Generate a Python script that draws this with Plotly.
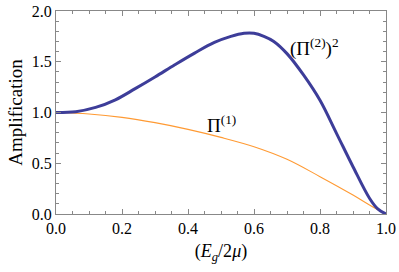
import plotly.graph_objects as go

x_pi2 = [0.0, 0.06, 0.12, 0.18, 0.24, 0.30, 0.36, 0.42, 0.48, 0.53, 0.57, 0.60, 0.63, 0.66, 0.70, 0.75, 0.80, 0.85, 0.90, 0.95, 0.975, 1.0]
y_pi2 = [1.0, 1.008, 1.05, 1.125, 1.235, 1.35, 1.47, 1.585, 1.69, 1.75, 1.78, 1.78, 1.75, 1.70, 1.58, 1.37, 1.12, 0.795, 0.466, 0.155, 0.05, 0.0]

x_pi1 = [0.0, 0.1, 0.2, 0.3, 0.4, 0.5, 0.6, 0.7, 0.8, 0.9, 0.95, 1.0]
y_pi1 = [1.0, 0.985, 0.952, 0.90, 0.834, 0.755, 0.663, 0.539, 0.368, 0.187, 0.089, 0.0]

x_ticks = [0.0, 0.2, 0.4, 0.6, 0.8, 1.0]
y_ticks = [0.0, 0.5, 1.0, 1.5, 2.0]

serif = "Liberation Serif"

fig = go.Figure()
fig.add_trace(go.Scatter(x=x_pi1, y=y_pi1, mode="lines", line=dict(color="#ff9a33", width=1.1, shape="spline"), showlegend=False, hoverinfo="skip"))
fig.add_trace(go.Scatter(x=x_pi2, y=y_pi2, mode="lines", line=dict(color="#3d3d99", width=3, shape="spline"), showlegend=False, hoverinfo="skip"))

fig.add_annotation(x=0.782, y=1.64, text="(Π<sup>(2)</sup>)<sup>2</sup>", showarrow=False,
                   font=dict(family=serif, size=19, color="black"))
fig.add_annotation(x=0.50, y=0.89, text="Π<sup>(1)</sup>", showarrow=False,
                   font=dict(family=serif, size=19, color="black"))

axis_common = dict(
    showgrid=False, zeroline=False, showline=True, linecolor="#888888", linewidth=1,
    mirror="ticks", ticks="inside", ticklen=5, tickcolor="#888888",
    tickfont=dict(family=serif, size=16, color="black"), automargin=False,
)

fig.update_xaxes(range=[0, 1], tickvals=x_ticks, ticktext=[f"{v:.1f}" for v in x_ticks],
                 minor=dict(dtick=0.05, tick0=0, ticks="inside", ticklen=3, tickcolor="#888888"),
                 title=dict(text="(<i>E</i><sub><i>g</i></sub>/2<i>μ</i>)", font=dict(family=serif, size=18, color="black"), standoff=8),
                 **axis_common)
fig.update_yaxes(range=[0, 2], tickvals=y_ticks, ticktext=[f"{v:.1f}" for v in y_ticks],
                 minor=dict(dtick=0.1, tick0=0, ticks="inside", ticklen=3, tickcolor="#888888"),
                 title=dict(text="Amplification", font=dict(family=serif, size=19, color="black"), standoff=4),
                 **axis_common)

fig.update_layout(width=399, height=272, margin=dict(l=56, r=13, t=11, b=58),
                  plot_bgcolor="white", paper_bgcolor="white")

fig.write_html("out.html", config={"displayModeBar": False},
               post_script="document.body.style.margin='0px';")
